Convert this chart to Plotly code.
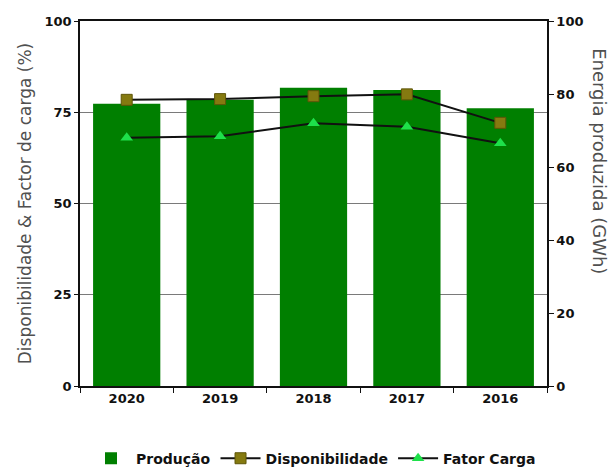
import plotly.graph_objects as go

# Annual values per year
anos = ["2020", "2019", "2018", "2017", "2016"]
producao_gwh = [77.3, 78.4, 81.7, 81.1, 76.1]
disponibilidade = [78.4, 78.6, 79.4, 79.9, 72.1]
fator_carga = [68.0, 68.4, 72.0, 71.0, 66.5]

tick_font = dict(family="DejaVu Sans", size=13, color="#111111", weight="bold")
title_font = dict(family="DejaVu Sans", size=17, color="#505050")

fig = go.Figure()

# Energy production bars on the right-hand axis
fig.add_trace(go.Bar(
    x=anos, y=producao_gwh, name="Produção",
    marker=dict(color="#007F00", line=dict(width=0)),
    yaxis="y",
))

# Availability and load factor lines on the left-hand axis
fig.add_trace(go.Scatter(
    x=anos, y=disponibilidade, name="Disponibilidade",
    mode="lines+markers",
    line=dict(color="#111111", width=2),
    marker=dict(symbol="square", size=11, color="#857A10",
                line=dict(color="#5E5508", width=1)),
    yaxis="y2",
))
fig.add_trace(go.Scatter(
    x=anos, y=fator_carga, name="Fator Carga",
    mode="lines+markers",
    line=dict(color="#111111", width=2),
    marker=dict(symbol="triangle-up", size=11, color="#1EE04A",
                line=dict(width=0)),
    yaxis="y2",
))

fig.update_layout(
    width=613, height=468,
    margin=dict(l=80, r=66, t=21, b=82, autoexpand=False),
    paper_bgcolor="white", plot_bgcolor="white",
    bargap=0.28,
    showlegend=True,
    legend=dict(orientation="h", x=0.5, xanchor="center",
                yref="container", y=0.02, yanchor="middle",
                font=dict(family="DejaVu Sans", size=14, color="#111111", weight="bold"),
                itemwidth=40, traceorder="normal"),
    xaxis=dict(
        type="category", tickfont=tick_font,
        showline=True, linecolor="#111111", linewidth=1.5,
        mirror=True, ticks="outside", tickson="boundaries",
        ticklen=5, tickcolor="#111111", showgrid=False,
    ),
    yaxis=dict(
        side="right", range=[0, 100], tickvals=[0, 20, 40, 60, 80, 100],
        tickfont=tick_font, showgrid=False, zeroline=False,
        showline=True, linecolor="#111111", linewidth=1.5,
        ticks="outside", ticklen=5, tickcolor="#111111",
    ),
    yaxis2=dict(
        overlaying="y", side="left", range=[0, 100],
        tickvals=[0, 25, 50, 75, 100], tickfont=tick_font,
        showgrid=True, gridcolor="#7a7a7a", gridwidth=1.2, zeroline=False,
        showline=True, linecolor="#111111", linewidth=1.5,
        ticks="outside", ticklen=4, tickcolor="#111111",
        title=dict(text="Disponibilidade & Factor de carga (%)", font=title_font, standoff=9),
    ),
    annotations=[dict(
        text="Energia produzida (GWh)", textangle=90,
        xref="paper", yref="paper", x=1.0, y=0.616, xshift=53,
        xanchor="center", yanchor="middle", showarrow=False,
        font=dict(family="DejaVu Sans", size=18, color="#505050"),
    )],
)

fig.write_html("out.html")
